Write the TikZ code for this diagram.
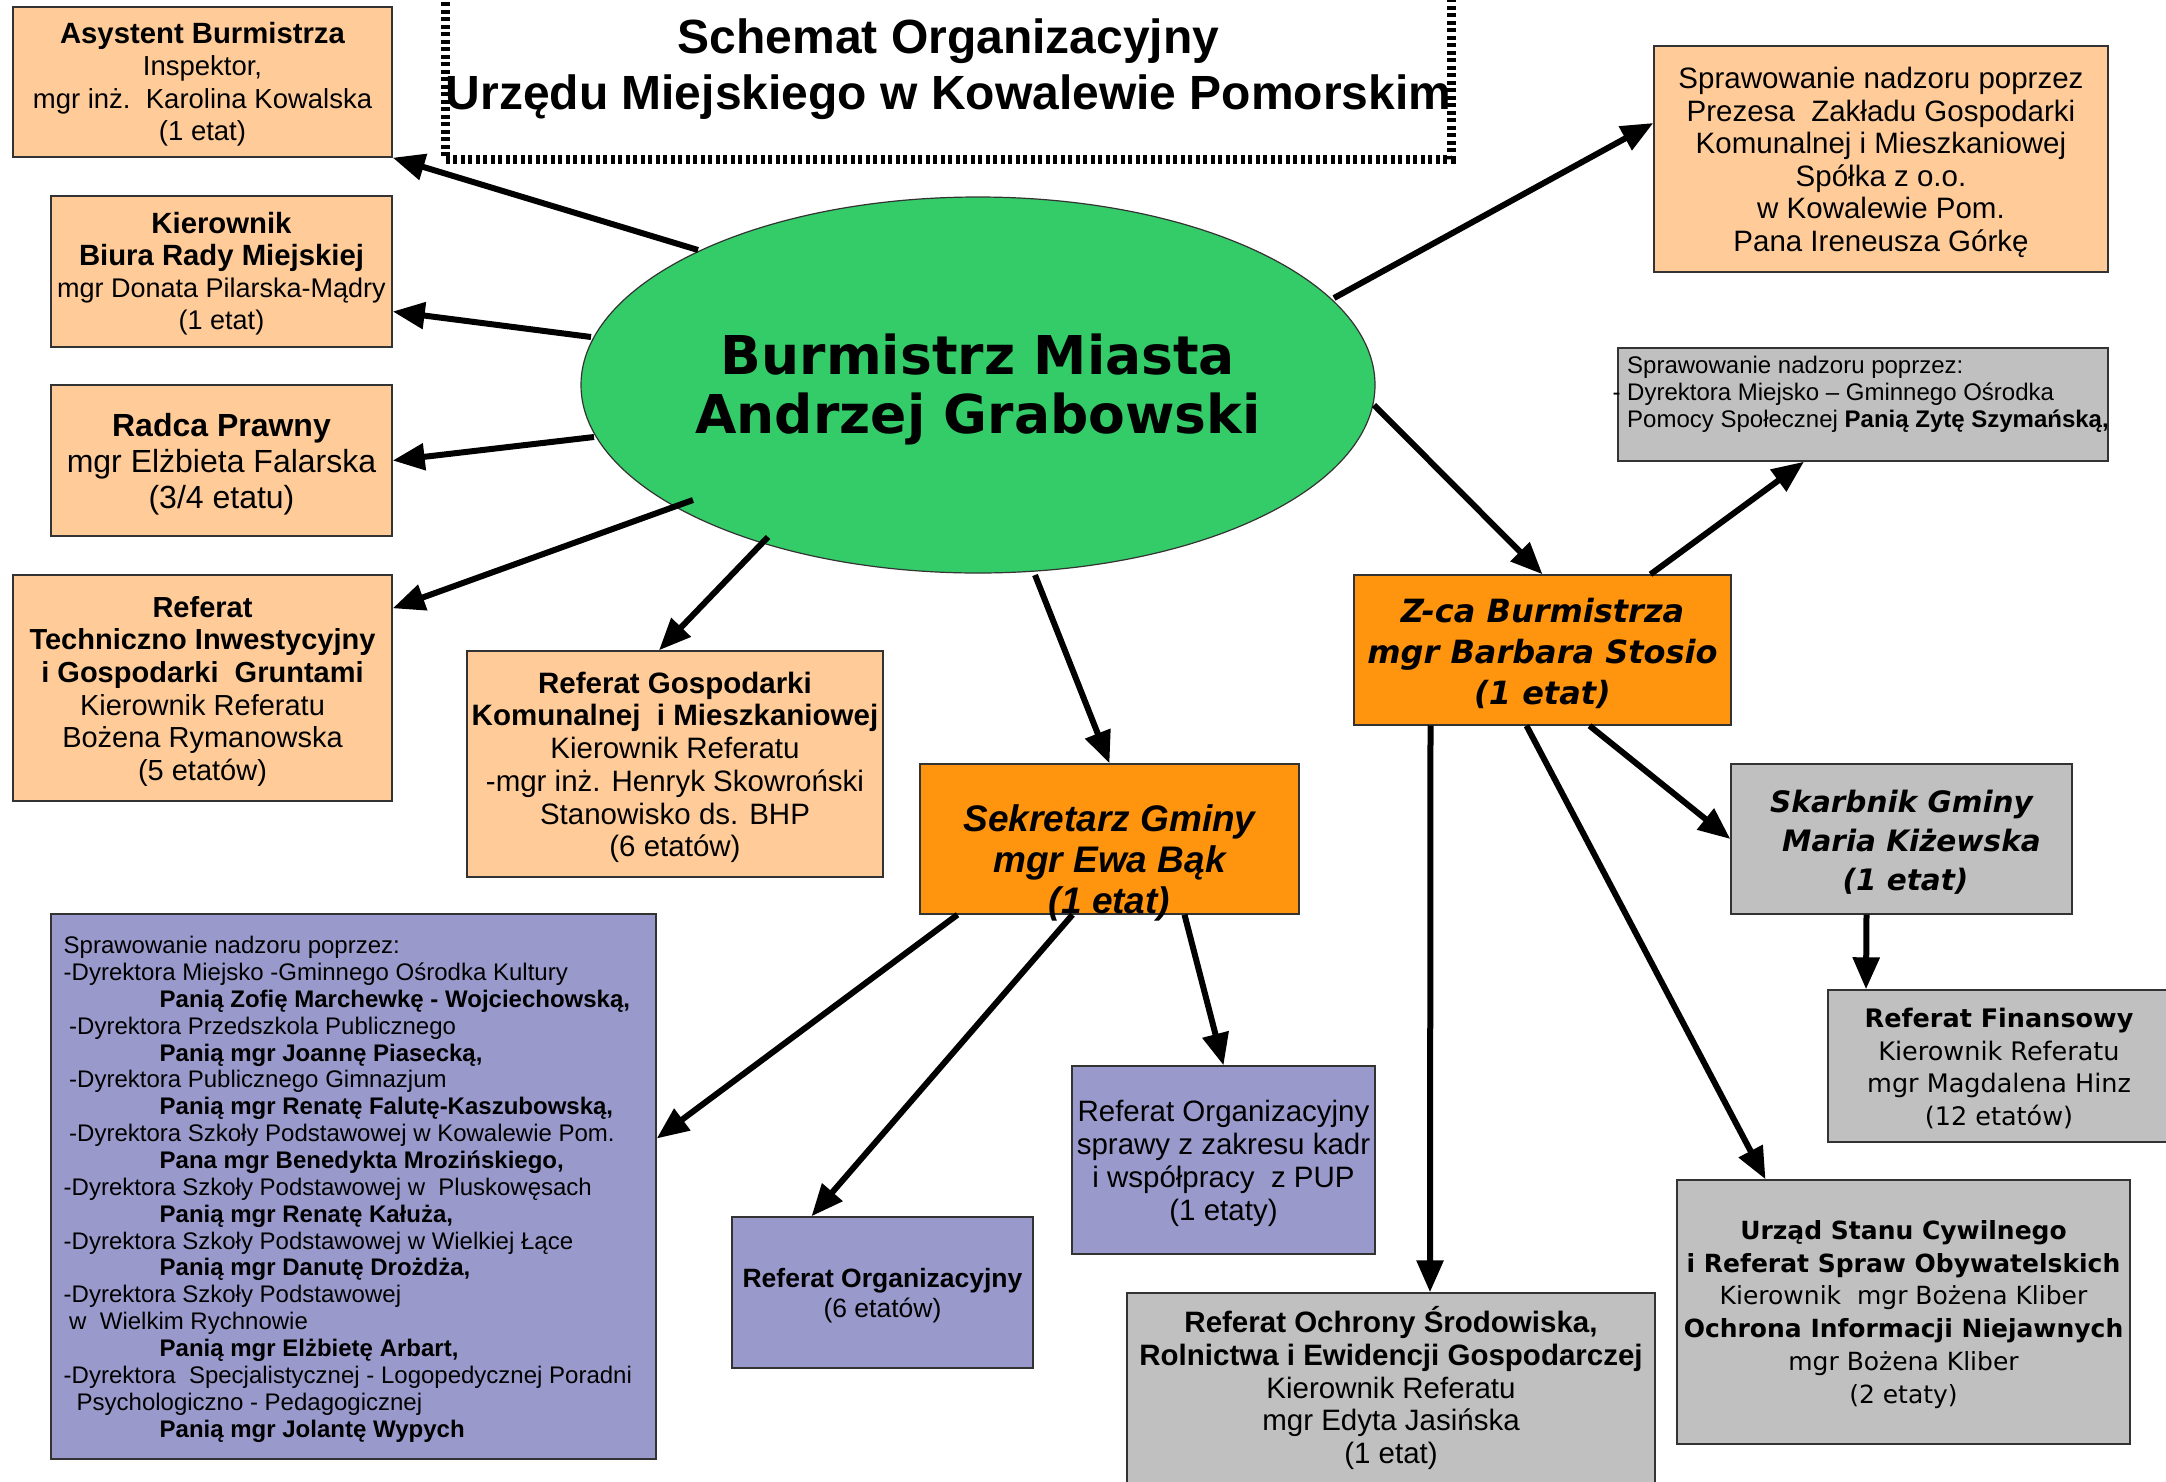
\documentclass[tikz,border=0pt]{standalone}
\usepackage{fontspec}
\setmainfont{Liberation Sans}
\newfontfamily\dv{DejaVu Sans}
\usetikzlibrary{arrows.meta,shapes.geometric}
\definecolor{peach}{RGB}{255,204,153}
\definecolor{orng}{RGB}{255,149,14}
\definecolor{grayb}{RGB}{192,192,192}
\definecolor{lav}{RGB}{153,153,204}
\definecolor{grn}{RGB}{52,204,104}
\newcommand{\fs}[2]{\fontsize{#1}{#2}\selectfont}
\newcommand{\up}{\rule{0pt}{0.95em}}
\begin{document}
\begin{tikzpicture}[x=1pt,y=-1pt,
  box/.style={draw=black!80, line width=1.4pt, rectangle, inner sep=0pt, align=center},
  txt/.style={inner sep=0pt},
  arr/.style={line width=6pt, -{Triangle[length=32pt,width=26pt]}}]
\useasboundingbox (0,0) rectangle (2166,1481);
\fill[white] (0,0) rectangle (2166,1481);

% title
\node[draw=black, line width=9pt, dash pattern=on 4pt off 3.5pt, inner sep=0pt, align=center,
  minimum width=1003pt, minimum height=179pt, font=\fs{48}{56}\bfseries] (title) at (948.5,69.5)
  {Schemat Organizacyjny\\Urzędu Miejskiego w Kowalewie Pomorskim};

% central ellipse
\node[ellipse, draw=black!80, line width=1.2pt, fill=grn, inner sep=0pt,
  minimum width=794pt, minimum height=376pt] (ell) at (978,385) {};
\node[txt, align=center, font=\dv\fs{53.5}{59}\bfseries] (ellt) at (978,389)
  {Burmistrz Miasta\\Andrzej Grabowski};

% left column
\node[box, fill=peach, minimum width=379pt, minimum height=150pt, font=\fs{27.5}{32.5}] (asys) at (202.5,82)
  {\up{\fontsize{29.3}{32.5}\selectfont\bfseries Asystent Burmistrza}\\Inspektor,\\mgr inż.\ \ Karolina Kowalska\\(1 etat)};
\node[box, fill=peach, minimum width=341pt, minimum height=151pt, font=\fs{27}{32}] (kier) at (221.5,271.5)
  {\up{\fontsize{29.3}{32}\selectfont\bfseries Kierownik}\\{\fontsize{29.3}{32}\selectfont\bfseries Biura Rady Miejskiej}\\mgr Donata Pilarska-Mądry\\(1 etat)};
\node[box, fill=peach, minimum width=341pt, minimum height=151pt, font=\fs{32}{36}] (radca) at (221.5,460.5)
  {\up\textbf{Radca Prawny}\\mgr Elżbieta Falarska\\(3/4 etatu)};
\node[box, fill=peach, minimum width=379pt, minimum height=226pt, font=\fs{29}{32.6}] (tech) at (202.5,688)
  {\up\textbf{Referat}\\\textbf{Techniczno Inwestycyjny}\\\textbf{i Gospodarki\ \ Gruntami}\\Kierownik Referatu\\Bożena Rymanowska\\(5 etatów)};
\node[box, fill=peach, minimum width=416pt, minimum height=226pt, font=\fs{29.5}{32.7}] (gosp) at (675,764)
  {\up\textbf{Referat Gospodarki}\\\textbf{Komunalnej\ \ i Mieszkaniowej}\\Kierownik Referatu\\-mgr inż. Henryk Skowroński\\Stanowisko ds. BHP\\(6 etatów)};

% Sekretarz
\node[box, fill=orng, minimum width=379pt, minimum height=150pt] (sek) at (1109.5,839) {};
\node[txt, align=center, font=\fs{37}{41}\bfseries\itshape] (sekt) at (1109.5,863)
  {Sekretarz Gminy\\mgr Ewa Bąk\\(1 etat)};

% big lavender box
\node[box, fill=lav, minimum width=605pt, minimum height=545pt] (blue) at (353.5,1186.5) {};
\node[txt, anchor=north west, align=left, font=\fs{24}{26.86}] (bluet) at (63.5,936)
  {Sprawowanie nadzoru poprzez:\\
   -Dyrektora Miejsko -Gminnego Ośrodka Kultury\\
   \hspace*{96pt}\textbf{Panią Zofię Marchewkę - Wojciechowską,}\\
   \hspace*{5.5pt}-Dyrektora Przedszkola Publicznego\\
   \hspace*{96pt}\textbf{Panią mgr Joannę Piasecką,}\\
   \hspace*{5.5pt}-Dyrektora Publicznego Gimnazjum\\
   \hspace*{96pt}\textbf{Panią mgr Renatę Falutę-Kaszubowską,}\\
   \hspace*{5.5pt}-Dyrektora Szkoły Podstawowej w Kowalewie Pom.\\
   \hspace*{96pt}\textbf{Pana mgr Benedykta Mrozińskiego,}\\
   -Dyrektora Szkoły Podstawowej w\ \ Pluskowęsach\\
   \hspace*{96pt}\textbf{Panią mgr Renatę Kałuża,}\\
   -Dyrektora Szkoły Podstawowej w Wielkiej Łące\\
   \hspace*{96pt}\textbf{Panią mgr Danutę Drożdża,}\\
   -Dyrektora Szkoły Podstawowej\\
   \hspace*{5.5pt}w\ \ Wielkim Rychnowie\\
   \hspace*{96pt}\textbf{Panią mgr Elżbietę Arbart,}\\
   -Dyrektora\ \ Specjalistycznej - Logopedycznej Poradni\\
   \hspace*{13pt}Psychologiczno - Pedagogicznej\\
   \hspace*{96pt}\textbf{Panią mgr Jolantę Wypych}};

% Sekretarz children
\node[box, fill=lav, minimum width=301pt, minimum height=151pt, font=\fs{26.5}{30}] (org6) at (882.5,1292.5)
  {\up\textbf{Referat Organizacyjny}\\(6 etatów)};
\node[box, fill=lav, minimum width=303pt, minimum height=188pt, font=\fs{29.5}{32.7}] (orgs) at (1223.5,1160)
  {\up Referat Organizacyjny\\sprawy z zakresu kadr\\i współpracy\ \ z PUP\\(1 etaty)};

% right side
\node[box, fill=peach, minimum width=454pt, minimum height=226pt, font=\fs{29.5}{32.6}] (spolka) at (1881,159)
  {\up Sprawowanie nadzoru poprzez\\Prezesa\ \ Zakładu Gospodarki\\Komunalnej i Mieszkaniowej\\Spółka z o.o.\\w Kowalewie Pom.\\Pana Ireneusza Górkę};
\node[box, fill=grayb, minimum width=490pt, minimum height=113pt] (mops) at (1863,404.5) {};
\node[txt, anchor=north west, align=left, font=\fs{24}{26.8}] (mopst) at (1627,356)
  {Sprawowanie nadzoru poprzez:\\\llap{- }Dyrektora Miejsko – Gminnego Ośrodka\\Pomocy Społecznej \textbf{Panią Zytę Szymańską,}};

\node[box, fill=orng, minimum width=377pt, minimum height=150pt, font=\dv\fs{32}{41}\bfseries\itshape] (zca) at (1542.5,650)
  {\up Z-ca Burmistrza\\mgr Barbara Stosio\\(1 etat)};
\node[box, fill=grayb, minimum width=341pt, minimum height=150pt, font=\dv\fs{29.5}{39}\bfseries\itshape] (skarb) at (1901.5,839)
  {\up Skarbnik Gminy\\\hspace*{20pt}Maria Kiżewska\\\hspace*{8pt}(1 etat)};
\node[box, fill=grayb, minimum width=342pt, minimum height=152pt, font=\dv\fs{25.5}{32.5}] (fin) at (1999,1066)
  {\up\textbf{Referat Finansowy}\\Kierownik Referatu\\mgr Magdalena Hinz\\(12 etatów)};
\node[box, fill=grayb, minimum width=453pt, minimum height=264pt, font=\dv\fs{25}{32.7}] (urzad) at (1903.5,1312)
  {\up\textbf{Urząd Stanu Cywilnego}\\\textbf{i Referat Spraw Obywatelskich}\\Kierownik\ \ mgr Bożena Kliber\\\textbf{Ochrona Informacji Niejawnych}\\mgr Bożena Kliber\\(2 etaty)};
\node[box, fill=grayb, minimum width=528pt, minimum height=220pt] (ochr) at (1391,1403) {};
\node[txt, align=center, font=\fs{29.5}{32.6}] (ochrt) at (1391,1388)
  {\textbf{Referat Ochrony Środowiska,}\\\textbf{Rolnictwa i Ewidencji Gospodarczej}\\Kierownik Referatu\\mgr Edyta Jasińska\\(1 etat)};

% arrows from Burmistrz
\draw[arr] ([xshift=-280pt,yshift=135pt]ell.center) -- (asys.south east);
\draw[arr] ([xshift=-387pt,yshift=48pt]ell.center) -- ([yshift=-40pt]kier.east);
\draw[arr] ([xshift=-384pt,yshift=-52pt]ell.center) -- (radca.east);
\draw[arr] ([xshift=-285pt,yshift=-115pt]ell.center) -- ([yshift=-34pt]tech.north east);
\draw[arr] ([xshift=-210pt,yshift=-152pt]ell.center) -- ([xshift=-16pt]gosp.north);
\draw[arr] ([xshift=57pt,yshift=-190pt]ell.center) -- (sek.north);
\draw[arr] ([xshift=356pt,yshift=87pt]ell.center) -- ([yshift=36pt]spolka.west);
\draw[arr] ([xshift=396pt,yshift=-20pt]ell.center) -- (zca.north);
% arrows from Z-ca
\draw[arr] ([xshift=108pt]zca.north) -- ([xshift=-59pt]mops.south);
\draw[arr] ([xshift=47pt]zca.south) -- (skarb.west);
\draw[arr] ([xshift=-16pt]zca.south) -- ([xshift=-138pt]urzad.north);
\draw[arr] ([xshift=-112pt]zca.south) -- ([xshift=39pt]ochr.north);
\draw[arr] ([xshift=-35pt]skarb.south) -- ([xshift=-133pt]fin.north);
% arrows from Sekretarz
\draw[arr] ([xshift=-152pt]sek.south) -- ([yshift=48pt]blue.east);
\draw[arr] ([xshift=-37pt]sek.south) -- ([xshift=-71pt]org6.north);
\draw[arr] ([xshift=75pt]sek.south) -- (orgs.north);
\end{tikzpicture}
\end{document}
